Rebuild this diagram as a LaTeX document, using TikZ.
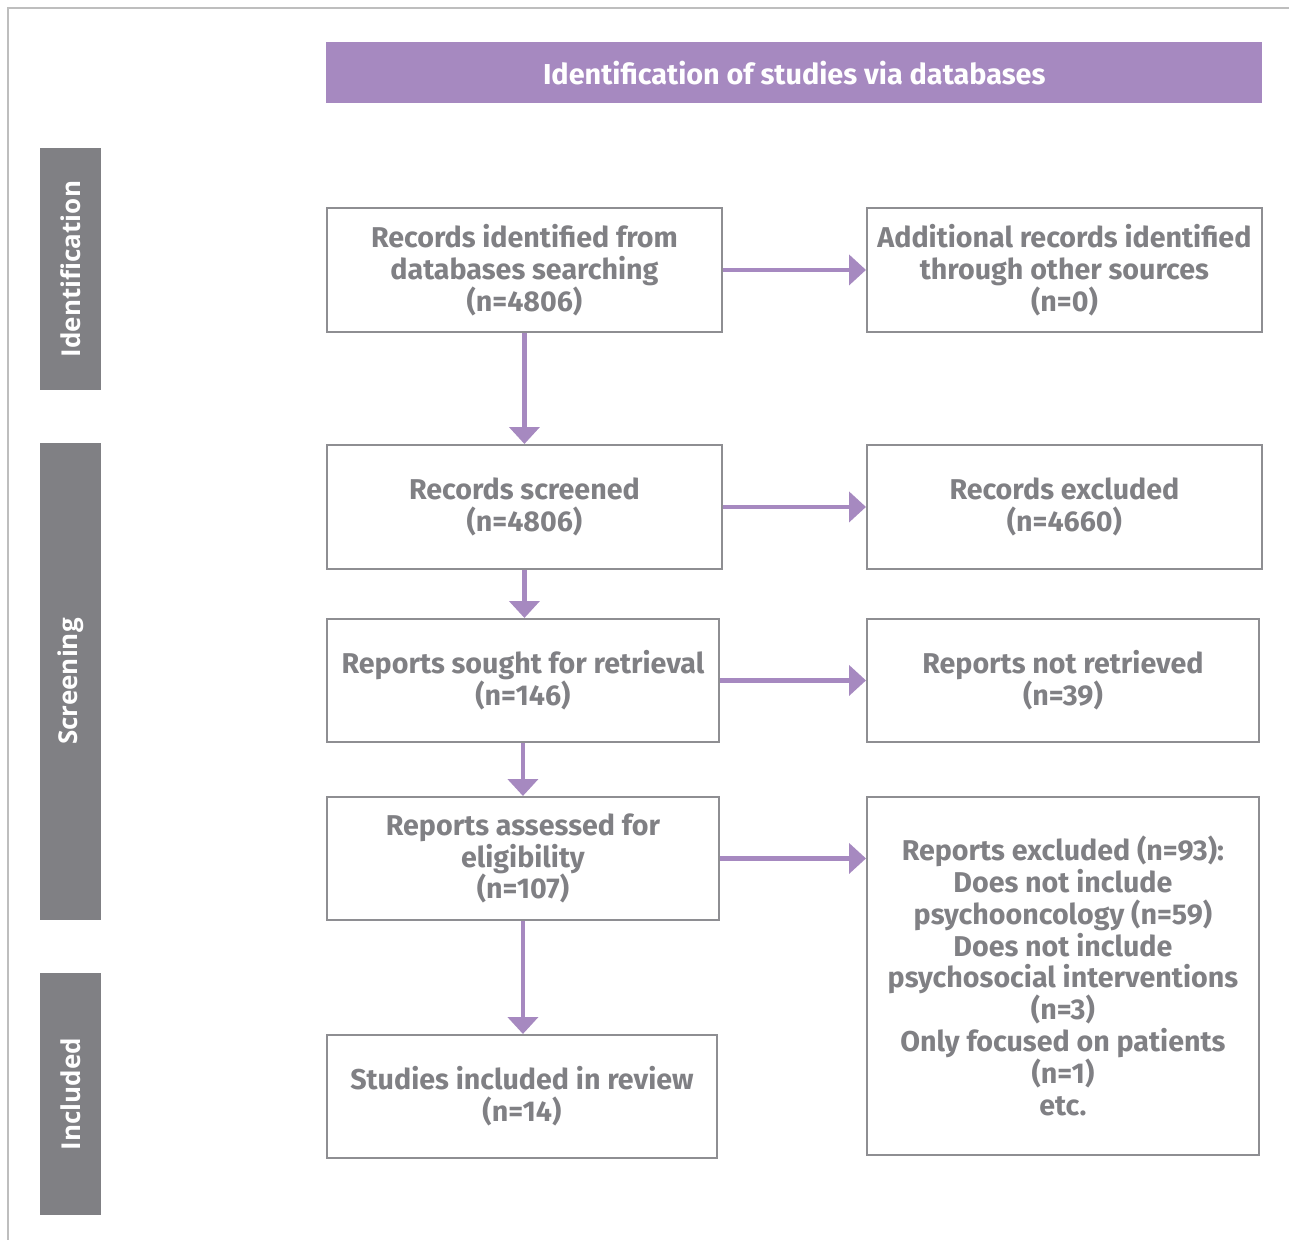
\documentclass[tikz,border=0pt]{standalone}
\usepackage{fontspec}
\setmainfont{Fira Sans}
\newfontfamily\sidefont{Open Sans}
\usepackage{tikz}
\usetikzlibrary{positioning,calc,arrows.meta}
\definecolor{prismapurple}{HTML}{A689C0}
\definecolor{prismagray}{HTML}{808084}
\definecolor{boxline}{HTML}{8E8E92}
\definecolor{frameline}{HTML}{BEBEBE}

\begin{document}
\begin{tikzpicture}[x=0.02cm, y=-0.02cm,
    box/.style={draw=boxline, line width=1.1pt, text=prismagray, inner sep=0pt,
        font=\fontsize{16.3}{18.1}\selectfont\bfseries, align=center, anchor=north west},
    header/.style={fill=prismapurple, text=white, inner sep=0pt, anchor=north west,
        font=\fontsize{16.4}{18}\selectfont\bfseries},
    sidebar/.style={fill=prismagray, text=white, inner sep=0pt, rotate=90,
        font=\sidefont\fontsize{14.8}{16}\selectfont\bfseries},
    flow/.style={draw=prismapurple, line width=2.6pt, -{Triangle[length=0.34cm, width=0.6cm]}}]
        \useasboundingbox (0,0) rectangle (1289,1240);
        \draw[frameline, line width=1.1pt] (8,1240) -- (8,8) -- (1289,8);

        \node[header, minimum width=18.72cm, minimum height=1.22cm] (head) at (326,42) {Identification of studies via databases};

        % phase bars on the left
        \foreach \y/\len/\lab in {269/4.84/Identification, 681.5/9.54/Screening, 1094/4.84/Included} {
            \node[sidebar, minimum width=\len cm, minimum height=1.22cm] (\lab) at (70.5,\y) {\lab};
        }

        \node[box, minimum width=7.9cm, minimum height=2.48cm] (rec) at (326,207) {Records identified from\\databases searching\\(n=4806)};
        \node[box, minimum width=7.9cm, minimum height=2.48cm] (add) at (866,207) {Additional records identified\\through other sources\\(n=0)};
        \node[box, minimum width=7.9cm, minimum height=2.48cm] (scr) at (326,444) {Records screened\\(n=4806)};
        \node[box, minimum width=7.9cm, minimum height=2.48cm] (excl) at (866,444) {Records excluded\\(n=4660)};
        \node[box, minimum width=7.84cm, minimum height=2.46cm] (sought) at (326,618) {Reports sought for retrieval\\(n=146)};
        \node[box, minimum width=7.84cm, minimum height=2.46cm] (notret) at (866,618) {Reports not retrieved\\(n=39)};
        \node[box, minimum width=7.84cm, minimum height=2.46cm] (assess) at (326,796) {Reports assessed for\\eligibility\\(n=107)};
        \node[box, minimum width=7.84cm, minimum height=7.16cm] (repexcl) at (866,796) {Reports excluded (n=93):\\Does not include\\psychooncology (n=59)\\Does not include\\psychosocial interventions\\(n=3)\\Only focused on patients\\(n=1)\\etc.};
        \node[box, minimum width=7.8cm, minimum height=2.46cm] (incl) at (326,1034) {Studies included in review\\(n=14)};

        \draw[flow] (rec.east) -- (add.west);
        \draw[flow] (rec.south) -- (rec.south |- scr.north);
        \draw[flow] (scr.east) -- (excl.west);
        \draw[flow] (scr.south) -- (scr.south |- sought.north);
        \draw[flow] (sought.east) -- (notret.west);
        \draw[flow] (sought.south) -- (sought.south |- assess.north);
        \draw[flow] (assess.east) -- (assess.east -| repexcl.west);
        \draw[flow] (assess.south) -- (assess.south |- incl.north);
\end{tikzpicture}
\end{document}
